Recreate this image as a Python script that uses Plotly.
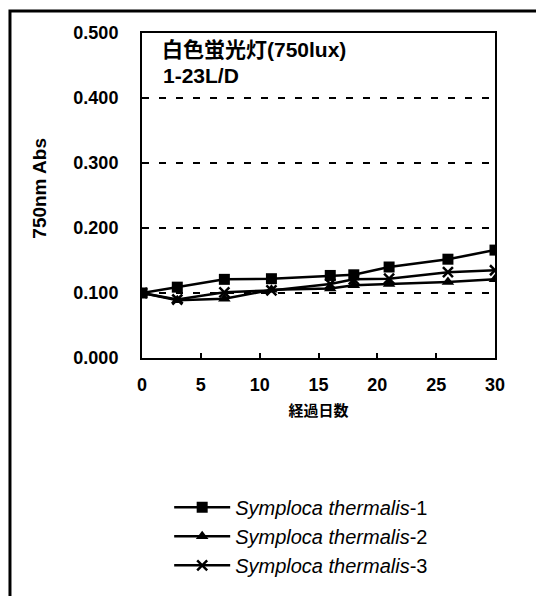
import plotly.graph_objects as go

# elapsed days and absorbance at 750 nm
days = [0, 3, 7, 11, 16, 18, 21, 26, 30]
abs_1 = [0.100, 0.109, 0.121, 0.122, 0.127, 0.128, 0.140, 0.152, 0.166]
abs_2 = [0.100, 0.089, 0.091, 0.105, 0.107, 0.112, 0.114, 0.117, 0.121]
abs_3 = [0.100, 0.090, 0.101, 0.104, 0.114, 0.121, 0.122, 0.132, 0.135]

names = ["<i>Symploca thermalis</i>-1",
         "<i>Symploca thermalis</i>-2",
         "<i>Symploca thermalis</i>-3"]
symbols = ["square", "triangle-up", "x-thin"]

FONT = "Liberation Sans, Arial, Noto Sans CJK JP, sans-serif"

fig = go.Figure()
for vals, name, sym in zip([abs_1, abs_2, abs_3], names, symbols):
    fig.add_trace(go.Scatter(
        x=days, y=vals, name=name, mode="lines+markers",
        line=dict(color="black", width=2.5),
        marker=dict(symbol=sym, size=11 if sym != "x-thin" else 10, color="black",
                    line=dict(color="black", width=2.5 if sym == "x-thin" else 0)),
    ))

# the page body has an 8px margin, so the figure is drawn 8px smaller
fig.update_layout(
    width=536, height=588,
    margin=dict(l=134, r=49, t=25, b=237),
    paper_bgcolor="white", plot_bgcolor="white",
    font=dict(family=FONT, color="black", size=16),
    showlegend=True,
    legend=dict(x=0.077, y=-0.395, xanchor="left", yanchor="top",
                font=dict(size=20, family=FONT), tracegroupgap=0,
                itemwidth=56, bgcolor="rgba(0,0,0,0)"),
    xaxis=dict(range=[0, 30], dtick=5, tickformat="d",
               showline=True, linecolor="black", linewidth=2, mirror=True,
               ticks="inside", ticklen=5, tickcolor="black", tickwidth=1.5,
               showgrid=False, zeroline=False,
               tickfont=dict(size=18, family=FONT, weight="bold"),
               ticklabelstandoff=9,
               title=dict(text="<b>経過日数</b>", font=dict(size=15), standoff=12)),
    yaxis=dict(range=[0, 0.5], dtick=0.1, tickformat=".3f",
               showline=True, linecolor="black", linewidth=2, mirror=True,
               showgrid=True, gridcolor="black", griddash="7px,10px", gridwidth=1.8,
               zeroline=False, ticks="",
               tickfont=dict(size=18, family=FONT, weight="bold"),
               ticklabelstandoff=18),
    annotations=[
        dict(text="<b>白色蛍光灯(750lux)</b>", xref="paper", yref="paper",
             x=0.05, y=0.99, xanchor="left", yanchor="top", showarrow=False,
             font=dict(size=21)),
        dict(text="<b>1-23L/D</b>", xref="paper", yref="paper",
             x=0.055, y=0.912, xanchor="left", yanchor="top", showarrow=False,
             font=dict(size=21)),
        dict(text="<b>750nm Abs</b>", xref="paper", yref="paper",
             x=-0.289, y=0.524, xanchor="center", yanchor="middle", showarrow=False,
             textangle=-90, font=dict(size=19)),
    ],
    shapes=[
        dict(type="rect", xref="paper", yref="paper",
             x0=-0.374, x1=1.2, y0=-0.8, y1=1.0675,
             line=dict(color="black", width=3), layer="below"),
    ],
)

fig.write_html("out.html")
